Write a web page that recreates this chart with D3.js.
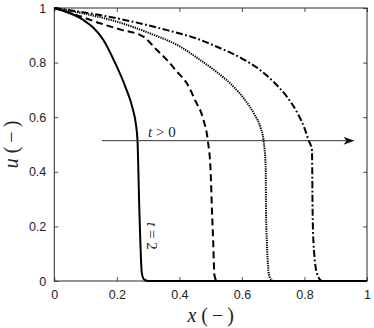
<!DOCTYPE html>
<html><head><meta charset="utf-8">
<script src="https://cdn.jsdelivr.net/npm/d3@7"></script>
<style>html,body{margin:0;padding:0;background:#fff;}</style>
</head><body>
<script>
// ---- data ----
const xTicks = [0, 0.2, 0.4, 0.6, 0.8, 1];
const uTicks = [0, 0.2, 0.4, 0.6, 0.8, 1];
const tickLabels = ["0", "0.2", "0.4", "0.6", "0.8", "1"];

const xSolid = [0, 0.04, 0.093, 0.157, 0.194, 0.227, 0.251, 0.261, 0.266, 0.272, 0.28, 0.287, 0.3, 1];
const uSolid = [1, 0.985, 0.956, 0.883, 0.8, 0.712, 0.63, 0.574, 0.516, 0.26, 0.028, 0.006, 0, 0];

const xDashed = [0, 0.07, 0.146, 0.215, 0.285, 0.328, 0.36, 0.392, 0.424, 0.45, 0.477, 0.491, 0.5, 0.504, 0.508, 0.512, 0.52, 1];
const uDashed = [1, 0.975, 0.944, 0.92, 0.895, 0.846, 0.81, 0.767, 0.724, 0.663, 0.59, 0.514, 0.4, 0.266, 0.15, 0.022, 0, 0];

const xDotted = [0, 0.093, 0.2, 0.306, 0.4, 0.466, 0.52, 0.573, 0.61, 0.64, 0.66, 0.669, 0.676, 0.677, 0.68, 0.688, 0.701, 1];
const uDotted = [1, 0.98, 0.95, 0.907, 0.86, 0.81, 0.765, 0.712, 0.663, 0.61, 0.56, 0.516, 0.419, 0.26, 0.138, 0.016, 0, 0];

const xDashDot = [0, 0.146, 0.25, 0.36, 0.45, 0.52, 0.6, 0.658, 0.705, 0.744, 0.78, 0.8, 0.813, 0.824, 0.826, 0.829, 0.84, 0.856, 1];
const uDashDot = [1, 0.974, 0.95, 0.919, 0.89, 0.858, 0.815, 0.773, 0.725, 0.675, 0.61, 0.56, 0.516, 0.48, 0.26, 0.138, 0.028, 0, 0];

const arrowX = [0.152, 0.96];
const arrowU = 0.514;

// ---- layout ----
const W = 374, H = 328;
const m = {left: 54.3, right: 374 - 367, top: 8, bottom: 328 - 281};
const svg = d3.select("body").append("svg").attr("width", W).attr("height", H);
const x = d3.scaleLinear().domain([0, 1]).range([m.left, W - m.right]);
const y = d3.scaleLinear().domain([0, 1]).range([H - m.bottom, m.top]);

const axisColor = "#262626";
const tickFont = "'Liberation Sans', Arial, sans-serif";
const serif = "'Liberation Serif', 'Times New Roman', serif";

function styleAxis(g, showLabels) {
  g.select(".domain").remove();
  g.selectAll("line").attr("stroke", axisColor).attr("stroke-width", 0.8);
  g.selectAll("text").attr("fill", "#222").style("font-family", tickFont).style("font-size", "12.5px");
  if (!showLabels) g.selectAll("text").remove();
}

svg.append("g").attr("transform", `translate(0,${y(0)})`)
  .call(d3.axisBottom(x).tickValues(xTicks).tickFormat((d, i) => tickLabels[i]).tickSizeInner(-4).tickSizeOuter(0).tickPadding(9))
  .call(g => styleAxis(g, true));
svg.append("g").attr("transform", `translate(0,${y(1)})`)
  .call(d3.axisTop(x).tickValues(xTicks).tickSizeInner(-4).tickSizeOuter(0))
  .call(g => styleAxis(g, false));
svg.append("g").attr("transform", `translate(${x(0)},0)`)
  .call(d3.axisLeft(y).tickValues(uTicks).tickFormat((d, i) => tickLabels[i]).tickSizeInner(-4).tickSizeOuter(0).tickPadding(8))
  .call(g => styleAxis(g, true));
svg.append("g").attr("transform", `translate(${x(1)},0)`)
  .call(d3.axisRight(y).tickValues(uTicks).tickSizeInner(-4).tickSizeOuter(0))
  .call(g => styleAxis(g, false));

// box
svg.append("rect").attr("x", x(0)).attr("y", y(1)).attr("width", x(1) - x(0)).attr("height", y(0) - y(1))
  .attr("fill", "none").attr("stroke", axisColor).attr("stroke-width", 1);

// curves
const line = d3.line().x(d => x(d[0])).y(d => y(d[1])).curve(d3.curveMonotoneX);
function curve(xs, us, dash, w) {
  svg.append("path").datum(xs.map((v, i) => [v, us[i]]))
    .attr("d", line).attr("fill", "none").attr("stroke", "#000")
    .attr("stroke-width", w).attr("stroke-dasharray", dash)
    .attr("stroke-linejoin", "round");
}
curve(xSolid, uSolid, null, 2);
curve(xDashed, uDashed, "7,4", 2);
curve(xDotted, uDotted, "1.3,1", 2);
curve(xDashDot, uDashDot, "7,2.5,1.8,2.5", 2);

// arrow
svg.append("line").attr("x1", x(arrowX[0])).attr("x2", x(arrowX[1]) - 6)
  .attr("y1", y(arrowU)).attr("y2", y(arrowU)).attr("stroke", "#333").attr("stroke-width", 1);
const ax = x(arrowX[1]), ay = y(arrowU);
svg.append("path").attr("d", `M${ax},${ay} L${ax - 11},${ay - 4} L${ax - 8},${ay} L${ax - 11},${ay + 4} Z`).attr("fill", "#111");

// annotations
const tl = svg.append("text").attr("x", x(0.30)).attr("y", y(arrowU) - 4)
  .style("font-family", serif).style("font-size", "15px").attr("fill", "#222");
tl.append("tspan").style("font-style", "italic").text("t");
tl.append("tspan").text(" > 0");

const t2 = svg.append("text").attr("transform", `translate(${x(0.297)},${y(0.165)}) rotate(90)`)
  .attr("text-anchor", "middle")
  .style("font-family", serif).style("font-size", "15px").attr("fill", "#222");
t2.append("tspan").style("font-style", "italic").text("t");
t2.append("tspan").text(" = 2");

// axis labels
const xl = svg.append("text").attr("x", (x(0) + x(1)) / 2).attr("y", 322).attr("text-anchor", "middle")
  .style("font-family", serif).style("font-size", "20px").attr("fill", "#222");
xl.append("tspan").style("font-style", "italic").text("x");
xl.append("tspan").text(" (\u2009−\u2009)");

const yl = svg.append("text").attr("transform", `translate(18,${(y(0) + y(1)) / 2}) rotate(-90)`).attr("text-anchor", "middle")
  .style("font-family", serif).style("font-size", "20px").attr("fill", "#222");
yl.append("tspan").style("font-style", "italic").text("u");
yl.append("tspan").text(" (\u2009−\u2009)");
</script>
</body></html>
